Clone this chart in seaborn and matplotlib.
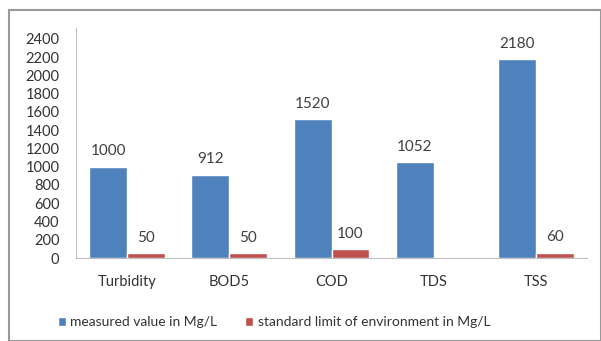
import pandas as pd
import numpy as np
import matplotlib.pyplot as plt
import seaborn as sns
from matplotlib.patches import Rectangle, Patch

categories = ['Turbidity', 'BOD5', 'COD', 'TDS', 'TSS']
measured = [1000, 912, 1520, 1052, 2180]
standard = [50, 50, 100, np.nan, 60]
series = ['measured value in Mg/L', 'standard limit of environment in Mg/L']
yticks = list(range(0, 2401, 200))

df = pd.DataFrame({
    'param': categories * 2,
    'value': measured + standard,
    'series': [series[0]] * len(categories) + [series[1]] * len(categories),
})

sns.set_style('white')
plt.rcParams['font.family'] = ['Lato', 'DejaVu Sans']

colors = ['#4F81BD', '#C0504D']
fig = plt.figure(figsize=(6.01, 3.41), dpi=100)
ax = fig.add_axes([76 / 601, 1 - 258 / 341, (587 - 76) / 601, (258 - 28) / 341])

sns.barplot(data=df, x='param', y='value', hue='series', palette=colors,
            width=0.74, saturation=1, ax=ax, legend=False)

for c in ax.containers:
    labels = [f'{v:.0f}' if not np.isnan(v) else '' for v in c.datavalues]
    ax.bar_label(c, labels=labels, padding=6, fontsize=11, color='#404040')

ax.set_ylim(0, 2520)
ax.set_yticks(yticks)
ax.set_yticklabels([str(t) for t in yticks], fontsize=10.5, color='#333333')
ax.tick_params(axis='x', labelsize=10.5, labelcolor='#333333', pad=12)
ax.tick_params(axis='y', pad=12)
ax.tick_params(length=0)
ax.set_xlabel('')
ax.set_ylabel('')
ax.set_xlim(-0.5, 4.5)
for s in ['top', 'right']:
    ax.spines[s].set_visible(False)
ax.spines['left'].set_color('#bfbfbf')
ax.spines['bottom'].set_color('#bfbfbf')

handles = [Patch(facecolor=colors[0]), Patch(facecolor=colors[1])]
fig.legend(handles, series, loc='center', bbox_to_anchor=(274 / 601, 1 - 322 / 341),
           ncol=2, frameon=False, fontsize=10, handlelength=0.6, handleheight=0.6,
           handletextpad=0.3, columnspacing=2.0, labelcolor='#333333')

fig.patches.append(Rectangle((9 / 601, 0), 1 - 9 / 601, 1 - 10 / 341,
                             transform=fig.transFigure, fill=False,
                             edgecolor='#999999', linewidth=1.5))

fig.savefig('out.png', dpi=100)
